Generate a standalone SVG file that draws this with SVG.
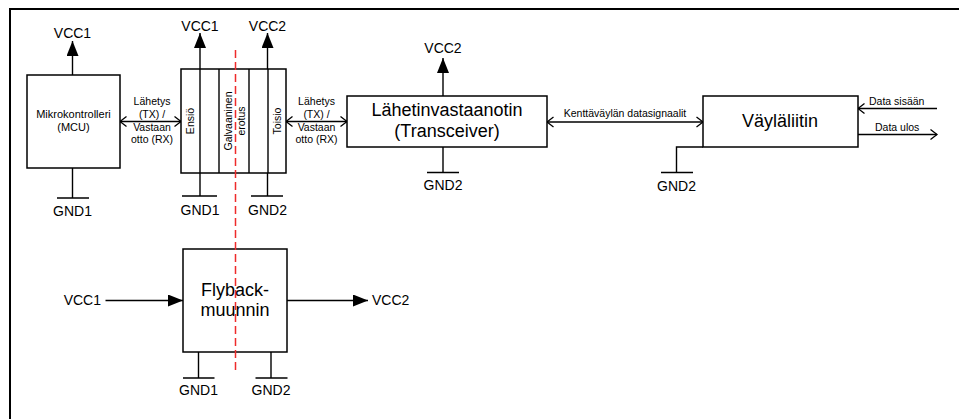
<svg xmlns="http://www.w3.org/2000/svg" width="959" height="419" viewBox="0 0 959 419">
<style>
text{font-family:"Liberation Sans",Arial,sans-serif;fill:#000}
.big{font-size:18px;text-anchor:middle}
.pw{font-size:14px;text-anchor:middle}
.sm{font-size:10.5px;text-anchor:middle}
.box{fill:#fff;stroke:#000;stroke-width:1.5}
.ln{fill:none;stroke:#000;stroke-width:1.4}
.fa{marker-end:url(#fill)}
.oa{marker-end:url(#open)}
.da{marker-start:url(#open);marker-end:url(#open)}
</style>
<defs>
<marker id="fill" markerUnits="userSpaceOnUse" viewBox="0 0 15 12" refX="15" refY="6" markerWidth="15" markerHeight="12" orient="auto"><path d="M0,0 L15,6 L0,12 z" fill="#000"/></marker>
<marker id="open" markerUnits="userSpaceOnUse" viewBox="-1 -1 9 12" refX="6.5" refY="5" markerWidth="9" markerHeight="12" orient="auto-start-reverse"><path d="M0,0 L6.5,5 L0,10" fill="none" stroke="#000" stroke-width="1.3"/></marker>
</defs>
<rect width="959" height="419" fill="#fff"/>
<path d="M10,419 V9 H959" fill="none" stroke="#000" stroke-width="2"/>

<g id="connectors">
  <line class="ln fa" x1="72.5" y1="75" x2="72.5" y2="41"/>
  <path class="ln" d="M72.5,168 V198 M57,198 H89"/>
  <line class="ln fa" x1="200" y1="69" x2="200" y2="33"/>
  <line class="ln fa" x1="267.5" y1="69" x2="267.5" y2="33"/>
  <path class="ln" d="M200,173 V196 M182,196 H217 M267.5,173 V196 M251,196 H283"/>
  <line class="ln fa" x1="443" y1="96" x2="443" y2="58"/>
  <path class="ln" d="M443,147 V172.5 M427,172.5 H459"/>
  <path class="ln" d="M703,147 H676.5 V172.5 M661,172.5 H693"/>
  <line class="ln fa" x1="105.5" y1="300.5" x2="183" y2="300.5"/>
  <line class="ln fa" x1="287" y1="300.5" x2="368" y2="300.5"/>
  <path class="ln" d="M198.5,352 V378 M183,378 H214.5 M271,352 V378 M255.5,378 H287.5"/>
  <line class="ln da" x1="120" y1="121.5" x2="181" y2="121.5"/>
  <line class="ln da" x1="286" y1="121.5" x2="347" y2="121.5"/>
  <line class="ln da" x1="547" y1="122" x2="703" y2="122"/>
  <line class="ln oa" x1="937" y1="108.5" x2="858" y2="108.5"/>
  <line class="ln oa" x1="858" y1="134.5" x2="937" y2="134.5"/>
  <g class="sm">
    <text x="152" y="105">Lähetys</text>
    <text x="152" y="117.5">(TX) /</text>
    <text x="152" y="130.5">Vastaan</text>
    <text x="152" y="143">otto (RX)</text>
    <text x="316.5" y="105">Lähetys</text>
    <text x="316.5" y="117.5">(TX) /</text>
    <text x="316.5" y="130.5">Vastaan</text>
    <text x="316.5" y="143">otto (RX)</text>
    <text x="625" y="117">Kenttäväylän datasignaalit</text>
    <text x="869" y="105" style="text-anchor:start">Data sisään</text>
    <text x="875" y="131" style="text-anchor:start">Data ulos</text>
  </g>
</g>

<g id="power-labels" class="pw">
  <text x="72.5" y="38">VCC1</text>
  <text x="72.5" y="216">GND1</text>
  <text x="200" y="31">VCC1</text>
  <text x="267.5" y="31">VCC2</text>
  <text x="200" y="215">GND1</text>
  <text x="267.5" y="215">GND2</text>
  <text x="443" y="53">VCC2</text>
  <text x="443" y="190">GND2</text>
  <text x="676.5" y="191">GND2</text>
  <text x="101" y="305" style="text-anchor:end">VCC1</text>
  <text x="372" y="305" style="text-anchor:start">VCC2</text>
  <text x="198.5" y="395">GND1</text>
  <text x="271" y="395">GND2</text>
</g>

<g id="mcu">
  <rect class="box" x="27" y="75" width="93" height="93"/>
  <text x="73.5" y="118" style="font-size:11px;text-anchor:middle">Mikrokontrolleri</text>
  <text x="73.5" y="131" style="font-size:11px;text-anchor:middle">(MCU)</text>
</g>

<g id="isolator">
  <rect class="box" x="181" y="69" width="105" height="104"/>
  <path class="ln" d="M200,69 V173 M219,69 V173 M249,69 V173 M268,69 V173" stroke-width="1.5"/>
  <text class="sm" transform="translate(194,121) rotate(-90)">Ensiö</text>
  <text class="sm" transform="translate(232,121) rotate(-90)">Galvaaninen</text>
  <text class="sm" transform="translate(244.5,121) rotate(-90)">erotus</text>
  <text class="sm" transform="translate(281,121) rotate(-90)">Toisio</text>
</g>

<g id="transceiver">
  <rect class="box" x="347" y="96" width="200" height="51"/>
  <text class="big" x="447" y="116">Lähetinvastaanotin</text>
  <text class="big" x="447" y="137">(Transceiver)</text>
</g>

<g id="busconnector">
  <rect class="box" x="703" y="96" width="155" height="51"/>
  <text class="big" x="780" y="127">Väyläliitin</text>
</g>

<g id="flyback">
  <rect class="box" x="183" y="249" width="104" height="103"/>
  <text class="big" x="235" y="296">Flyback-</text>
  <text class="big" x="235" y="316">muunnin</text>
</g>

<line id="isolation-barrier" x1="235.5" y1="50" x2="235.5" y2="372" stroke="#ee2b2b" stroke-width="1.5" stroke-dasharray="8,4"/>
</svg>
